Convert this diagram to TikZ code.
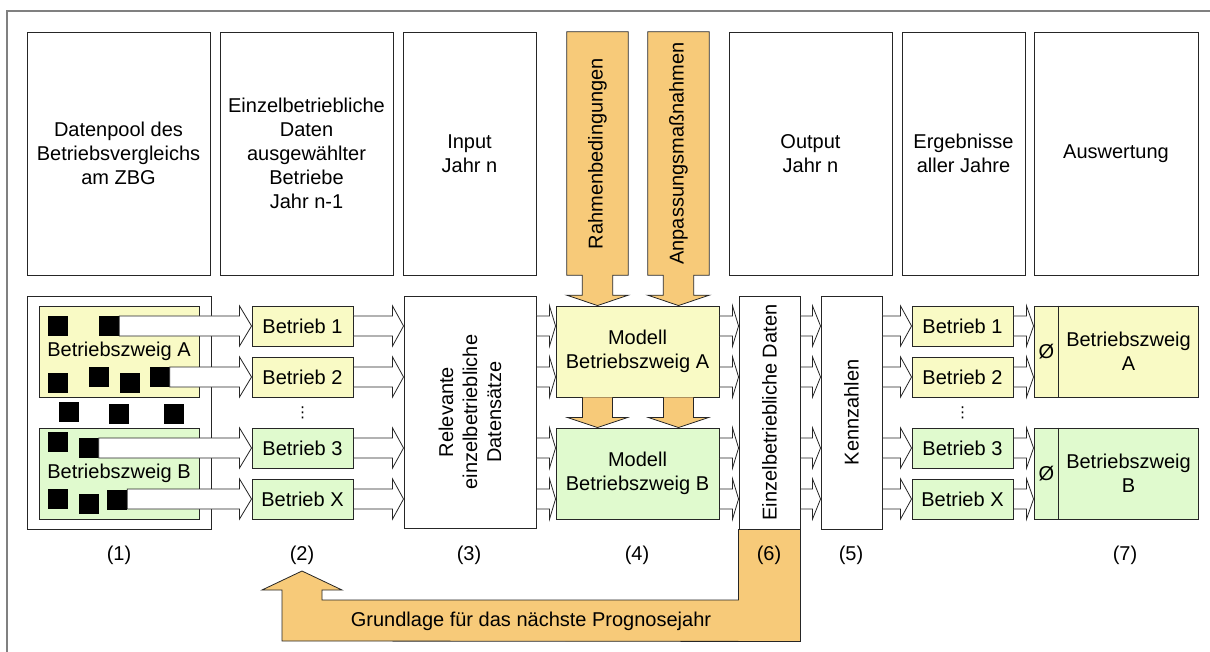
\documentclass[tikz,border=0pt]{standalone}
\usepackage{fontspec}
\setmainfont{Liberation Sans}
\newfontfamily\dejavu{DejaVu Sans}
\usetikzlibrary{calc}
\definecolor{zweigA}{RGB}{249,250,197}
\definecolor{zweigB}{RGB}{224,250,206}
\definecolor{prognose}{RGB}{247,202,121}
\definecolor{framegray}{RGB}{128,128,128}

\newcommand{\blockarrow}[3][11]{%
  \draw[blockarrow] let \p1=(#2), \p2=(#3) in
    (\x1,\y2+10pt) -- (\x2-#1pt,\y2+10pt) -- (\x2-#1pt,\y2+20pt) -- (\x2,\y2)
    -- (\x2-#1pt,\y2-20pt) -- (\x2-#1pt,\y2-10pt) -- (\x1,\y2-10pt) -- cycle;}
\newcommand{\dropdown}[2]{%
  \draw[orangearrow] let \p1=(#1), \p2=(#2) in
    (\x1-15pt,\y1) -- (\x1-15pt,\y2+10pt) -- (\x1-30pt,\y2+10pt) -- (\x1,\y2)
    -- (\x1+30pt,\y2+10pt) -- (\x1+15pt,\y2+10pt) -- (\x1+15pt,\y1);}

\begin{document}
\begin{tikzpicture}[x=1pt,y=-1pt,
    font=\fontsize{20}{24}\selectfont,
    box/.style={draw=black!85,line width=0.9pt,fill=white,inner sep=0pt,align=center},
    topbox/.style={box,minimum height=243pt},
    zweigboxA/.style={box,fill=zweigA,minimum height=91pt},
    zweigboxB/.style={box,fill=zweigB,minimum height=91pt},
    betrieb/.style={box,minimum width=101pt,minimum height=40pt},
    column/.style={box,minimum width=61pt,minimum height=233pt},
    square/.style={fill=black,inner sep=0pt,minimum size=20pt},
    blockarrow/.style={draw=black!85,line width=0.8pt,fill=white},
    orangearrow/.style={draw=black!85,line width=0.8pt,fill=prognose},
    vdots/.style={inner sep=0pt,font=\dejavu\fontsize{15}{15}\selectfont}]
  \useasboundingbox (0,0) rectangle (1210,652);
  \draw[framegray,line width=2pt] (7,652) -- (7,11) -- (1210,11);

  % top row
  \draw
    (118.5,153.5) node[topbox,minimum width=183pt] (datenpool) {Datenpool des\\Betriebsvergleichs\\am ZBG}
    (306.5,153.5) node[topbox,minimum width=173pt] (auswahl) {Einzelbetriebliche\\Daten\\ausgewählter\\Betriebe\\Jahr n-1}
    (469.5,153.5) node[topbox,minimum width=133pt] (input) {Input\\Jahr n}
    (810.5,153.5) node[topbox,minimum width=163pt] (output) {Output\\Jahr n}
    (963.5,153.5) node[topbox,minimum width=123pt] (ergebnisse) {Ergebnisse\\aller Jahre}
    (1116,153.5) node[topbox,minimum width=164pt] (auswertung) {Auswertung}
    (597.5,153.5) node[inner sep=0pt,minimum width=61pt,minimum height=243pt] (rahmen) {}
    (678.5,153.5) node[inner sep=0pt,minimum width=61pt,minimum height=243pt] (anpassung) {};

  % model row
  \draw
    (119,412.5) node[box,minimum width=184pt,minimum height=233pt] (pool) {}
    (119,351.5) node[zweigboxA,minimum width=160pt] (zweigA) {Betriebszweig A}
    (119,473.5) node[zweigboxB,minimum width=160pt] (zweigB) {Betriebszweig B}
    (302.5,326) node[betrieb,fill=zweigA] (b1) {Betrieb 1}
    (302.5,377) node[betrieb,fill=zweigA] (b2) {Betrieb 2}
    (302.5,413) node[vdots] (bdots) {⋮}
    (302.5,448) node[betrieb,fill=zweigB] (b3) {Betrieb 3}
    (302.5,499) node[betrieb,fill=zweigB] (bX) {Betrieb X}
    (470,412) node[box,minimum width=132pt,minimum height=232pt] (relevant) {}
    (637.5,351.5) node[zweigboxA,minimum width=163pt] (modellA) {Modell\\Betriebszweig A}
    (637.5,473.5) node[zweigboxB,minimum width=163pt] (modellB) {Modell\\Betriebszweig B}
    (769.5,412.5) node[column] (einzel) {}
    (851.5,412.5) node[column] (kennzahlen) {}
    (962.5,326) node[betrieb,fill=zweigA] (e1) {Betrieb 1}
    (962.5,377) node[betrieb,fill=zweigA] (e2) {Betrieb 2}
    (962.5,413) node[vdots] (edots) {⋮}
    (962.5,448) node[betrieb,fill=zweigB] (e3) {Betrieb 3}
    (962.5,499) node[betrieb,fill=zweigB] (eX) {Betrieb X}
    (1116,351.5) node[zweigboxA,minimum width=164pt] (schnittA) {}
    (1116,473.5) node[zweigboxB,minimum width=164pt] (schnittB) {};

  % orange arrows
  \draw[orangearrow] (rahmen.north west) -- (rahmen.north east) -- (rahmen.south east)
    -- ++(-15.5,0) -- ++(0,20) -- ++(15.5,0) -- (rahmen.south |- modellA.north)
    -- ([yshift=-20pt]rahmen.south west) -- ++(15.5,0) -- ++(0,-20) -- (rahmen.south west) -- cycle;
  \draw[orangearrow] (anpassung.north west) -- (anpassung.north east) -- (anpassung.south east)
    -- ++(-15.5,0) -- ++(0,20) -- ++(15.5,0) -- (anpassung.south |- modellA.north)
    -- ([yshift=-20pt]anpassung.south west) -- ++(15.5,0) -- ++(0,-20) -- (anpassung.south west) -- cycle;
  \dropdown{modellA.south -| rahmen.south}{modellB.north -| rahmen.south}
  \dropdown{modellA.south -| anpassung.south}{modellB.north -| anpassung.south}
  \coordinate (ziel) at (302,571);
  \draw[orangearrow] (einzel.south west) -- (einzel.south east) -- ++(0,112) -- (282,641)
    -- (282,590) -- (262,590) -- (ziel) -- (342,590) -- (322,590) -- (322,600)
    -- (einzel.south west |- 322,600) -- cycle;

  % Betriebe im Datenpool
  \draw
    (58,326) node[square] (a1) {}
    (109,326) node[square] (a2) {}
    (58,383) node[square] (a3) {}
    (98.5,377) node[square] (a4) {}
    (129.5,383) node[square] (a5) {}
    (159.5,377) node[square] (a6) {}
    (68.5,411.5) node[square] (m1) {}
    (118.5,414) node[square] (m2) {}
    (173.5,414) node[square] (m3) {}
    (58,442) node[square] (c1) {}
    (88.5,448) node[square] (c2) {}
    (58,498.5) node[square] (c3) {}
    (88.5,503.5) node[square] (c4) {}
    (117,499.5) node[square] (c5) {};

  \begin{scope}
    \blockarrow[12]{a2.east}{b1.west}
    \blockarrow[12]{a6.east}{b2.west}
    \blockarrow[12]{c2.east}{b3.west}
    \blockarrow[12]{c5.east}{bX.west}
    \foreach \b in {b1,b2,b3,bX} {
      \blockarrow{\b.east}{\b -| relevant.west}
    }
    \foreach \b in {b1,b2} {
      \blockarrow[6]{\b -| relevant.east}{\b -| modellA.west}
      \blockarrow[6]{\b -| modellA.east}{\b -| einzel.west}
    }
    \foreach \b in {b3,bX} {
      \blockarrow[6]{\b -| relevant.east}{\b -| modellB.west}
      \blockarrow[6]{\b -| modellB.east}{\b -| einzel.west}
    }
    \foreach \b in {b1,b2,b3,bX} {
      \blockarrow[8]{\b -| einzel.east}{\b -| kennzahlen.west}
    }
    \foreach \e in {e1,e2,e3,eX} {
      \blockarrow{\e -| kennzahlen.east}{\e.west}
    }
    \blockarrow[7]{e1.east}{e1 -| schnittA.west}
    \blockarrow[7]{e2.east}{e2 -| schnittA.west}
    \blockarrow[7]{e3.east}{e3 -| schnittB.west}
    \blockarrow[7]{eX.east}{eX -| schnittB.west}
  \end{scope}

  % texts
  \draw[black!85,line width=0.8pt] ([xshift=25pt]schnittA.north west) -- ([xshift=25pt]schnittA.south west)
    ([xshift=25pt]schnittB.north west) -- ([xshift=25pt]schnittB.south west);
  \draw
    (1046.5,351.5) node (avgA) {Ø}
    (1128.5,351.5) node[align=center] (zweigAT) {Betriebszweig\\A}
    (1046.5,473.5) node (avgB) {Ø}
    (1128.5,473.5) node[align=center] (zweigBT) {Betriebszweig\\B}
    (rahmen) node[rotate=90] (rahmenT) {Rahmenbedingungen}
    (anpassung) node[rotate=90] (anpassungT) {Anpassungsmaßnahmen}
    (relevant) node[rotate=90,align=center] (relevantT) {Relevante\\einzelbetriebliche\\Datensätze}
    (einzel) node[rotate=90] (einzelT) {Einzelbetriebliche Daten}
    (kennzahlen) node[rotate=90] (kennzahlenT) {Kennzahlen}
    (531,621) node (grundlage) {Grundlage für das nächste Prognosejahr}
    (119,555) node (n1) {(1)}
    (302,555) node (n2) {(2)}
    (469,555) node (n3) {(3)}
    (637,555) node (n4) {(4)}
    (769,555) node (n6) {(6)}
    (851,555) node (n5) {(5)}
    (1125,555) node (n7) {(7)};
\end{tikzpicture}
\end{document}
